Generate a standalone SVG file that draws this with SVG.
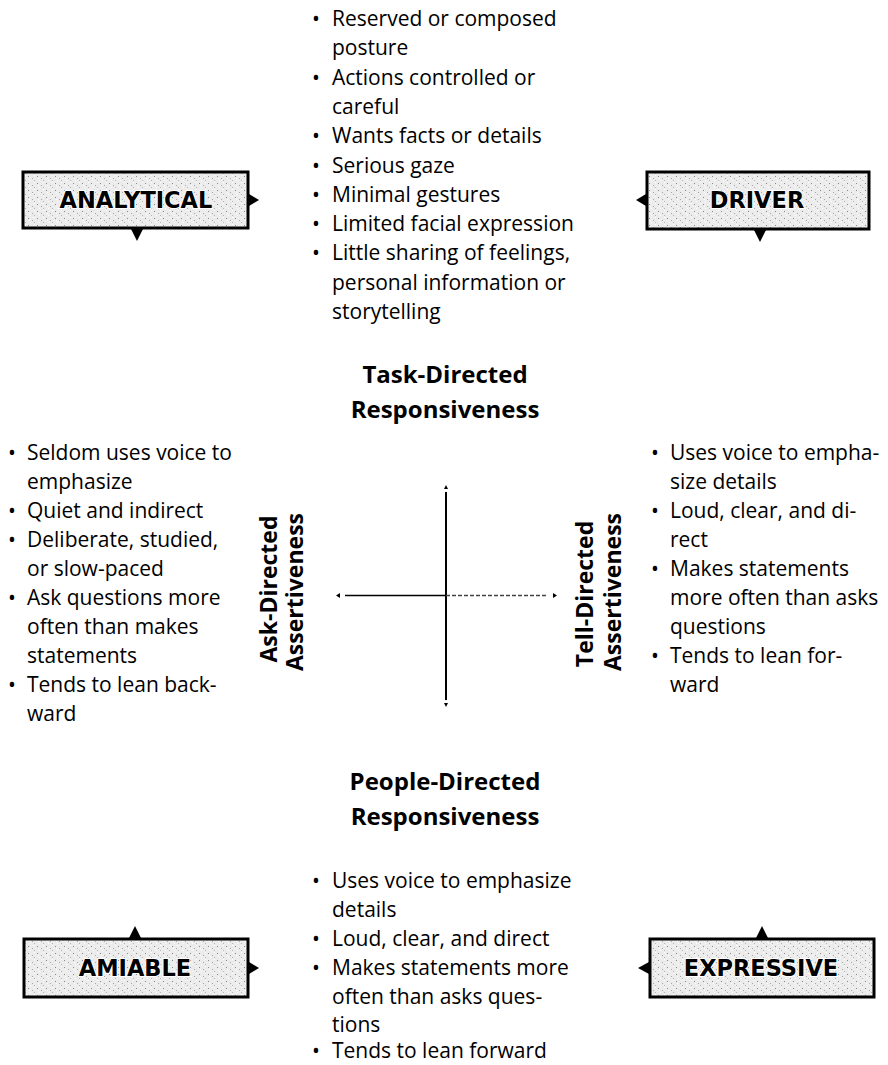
<svg xmlns="http://www.w3.org/2000/svg" width="888" height="1065" viewBox="0 0 888 1065">
<defs>
<pattern id="speckle" width="9" height="7" patternUnits="userSpaceOnUse">
<rect width="9" height="7" fill="#ececec"/>
<rect x="1" y="1" width="1" height="1" fill="#8a8a8a"/>
<rect x="5" y="3" width="1" height="1" fill="#a8a8a8"/>
<rect x="3" y="5" width="1" height="1" fill="#ffffff"/>
<rect x="7" y="0" width="1" height="1" fill="#ffffff"/>
<rect x="7" y="5" width="1" height="1" fill="#b5b5b5"/>
<rect x="2" y="3" width="1" height="1" fill="#ffffff"/>
</pattern>
<style>
.box{fill:url(#speckle);stroke:#000;stroke-width:3}
.tri{fill:#000}
.lbl{font-family:"DejaVu Sans",sans-serif;font-weight:bold;font-size:22.5px;text-anchor:middle;fill:#000;stroke:#fff;stroke-width:2;paint-order:stroke}
.body{font-family:"Open Sans","Liberation Sans",sans-serif;font-size:21px;fill:#000}
.head{font-family:"Open Sans","Liberation Sans",sans-serif;font-weight:bold;font-size:24px;fill:#000;text-anchor:middle}
.rot{font-family:"Open Sans","Liberation Sans",sans-serif;font-weight:bold;font-size:23px;fill:#000;text-anchor:middle}
.axis{stroke:#000;stroke-width:2;fill:none}
.axisl{stroke:#444;stroke-width:1.3;stroke-dasharray:4 2;fill:none}
</style>
</defs>
<rect width="888" height="1065" fill="#fff"/>

<g id="analytical">
<rect class="box" x="23" y="172" width="225" height="56"/>
<polygon class="tri" points="249,194 259,200 249,206"/>
<polygon class="tri" points="131,229 143,229 137,241"/>
<text class="lbl" x="136" y="208">ANALYTICAL</text>
</g>

<g id="driver">
<rect class="box" x="647" y="172" width="222" height="57"/>
<polygon class="tri" points="646,194 636,200 646,206"/>
<polygon class="tri" points="754,230 766,230 760,242"/>
<text class="lbl" x="757" y="208">DRIVER</text>
</g>

<g id="amiable">
<rect class="box" x="24" y="939" width="224" height="58"/>
<polygon class="tri" points="129,938 141,938 135,926"/>
<polygon class="tri" points="249,962 259,968 249,974"/>
<text class="lbl" x="135" y="976">AMIABLE</text>
</g>

<g id="expressive">
<rect class="box" x="650" y="939" width="224" height="58"/>
<polygon class="tri" points="756,938 768,938 762,926"/>
<polygon class="tri" points="649,962 638,968 649,974"/>
<text class="lbl" x="761" y="976">EXPRESSIVE</text>
</g>

<g id="analytical-traits" class="body">
<text x="312" y="26">•</text><text x="332" y="26">Reserved or composed</text>
<text x="332" y="55.3">posture</text>
<text x="312" y="84.6">•</text><text x="332" y="84.6">Actions controlled or</text>
<text x="332" y="113.9">careful</text>
<text x="312" y="143.2">•</text><text x="332" y="143.2">Wants facts or details</text>
<text x="312" y="172.5">•</text><text x="332" y="172.5">Serious gaze</text>
<text x="312" y="201.8">•</text><text x="332" y="201.8">Minimal gestures</text>
<text x="312" y="231.1">•</text><text x="332" y="231.1">Limited facial expression</text>
<text x="312" y="260.4">•</text><text x="332" y="260.4">Little sharing of feelings,</text>
<text x="332" y="289.7">personal information or</text>
<text x="332" y="319">storytelling</text>
</g>

<g id="task-directed">
<text class="head" x="445" y="383">Task-Directed</text>
<text class="head" x="445" y="418">Responsiveness</text>
</g>

<g id="ask-traits" class="body">
<text x="8" y="459.5">•</text><text x="27" y="459.5">Seldom uses voice to</text>
<text x="27" y="488.5">emphasize</text>
<text x="8" y="517.5">•</text><text x="27" y="517.5">Quiet and indirect</text>
<text x="8" y="546.5">•</text><text x="27" y="546.5">Deliberate, studied,</text>
<text x="27" y="575.5">or slow-paced</text>
<text x="8" y="604.5">•</text><text x="27" y="604.5">Ask questions more</text>
<text x="27" y="633.5">often than makes</text>
<text x="27" y="662.5">statements</text>
<text x="8" y="691.5">•</text><text x="27" y="691.5">Tends to lean back-</text>
<text x="27" y="720.5">ward</text>
</g>

<g id="ask-directed">
<text class="rot" transform="translate(277,589) rotate(-90)">Ask-Directed</text>
<text class="rot" transform="translate(303,592) rotate(-90)">Assertiveness</text>
</g>

<g id="tell-directed">
<text class="rot" transform="translate(593,594) rotate(-90)">Tell-Directed</text>
<text class="rot" transform="translate(621,592) rotate(-90)">Assertiveness</text>
</g>

<g id="tell-traits" class="body">
<text x="651" y="459.5">•</text><text x="670" y="459.5">Uses voice to empha-</text>
<text x="670" y="488.5">size details</text>
<text x="651" y="517.5">•</text><text x="670" y="517.5">Loud, clear, and di-</text>
<text x="670" y="546.5">rect</text>
<text x="651" y="575.5">•</text><text x="670" y="575.5">Makes statements</text>
<text x="670" y="604.5">more often than asks</text>
<text x="670" y="633.5">questions</text>
<text x="651" y="662.5">•</text><text x="670" y="662.5">Tends to lean for-</text>
<text x="670" y="691.5">ward</text>
</g>

<g id="people-directed">
<text class="head" x="445" y="790">People-Directed</text>
<text class="head" x="445" y="825">Responsiveness</text>
</g>

<g id="people-traits" class="body">
<text x="312" y="888">•</text><text x="332" y="888">Uses voice to emphasize</text>
<text x="332" y="917">details</text>
<text x="312" y="946">•</text><text x="332" y="946">Loud, clear, and direct</text>
<text x="312" y="975">•</text><text x="332" y="975">Makes statements more</text>
<text x="332" y="1004">often than asks ques-</text>
<text x="332" y="1032">tions</text>
<text x="312" y="1058">•</text><text x="332" y="1058">Tends to lean forward</text>
</g>

<g id="connectors">
<line class="axis" x1="446" y1="492" x2="446" y2="700"/>
<polygon class="tri" points="444,489 448,489 446,485"/>
<polygon class="tri" points="444,703 448,703 446,707"/>
<line class="axis" x1="345" y1="595.5" x2="446" y2="595.5" style="stroke-width:1.6"/>
<line class="axisl" x1="446" y1="595.5" x2="548" y2="595.5"/>
<polygon class="tri" points="340,593 340,598 336,595.5"/>
<polygon class="tri" points="553,593 553,598 557,595.5"/>
</g>
</svg>
